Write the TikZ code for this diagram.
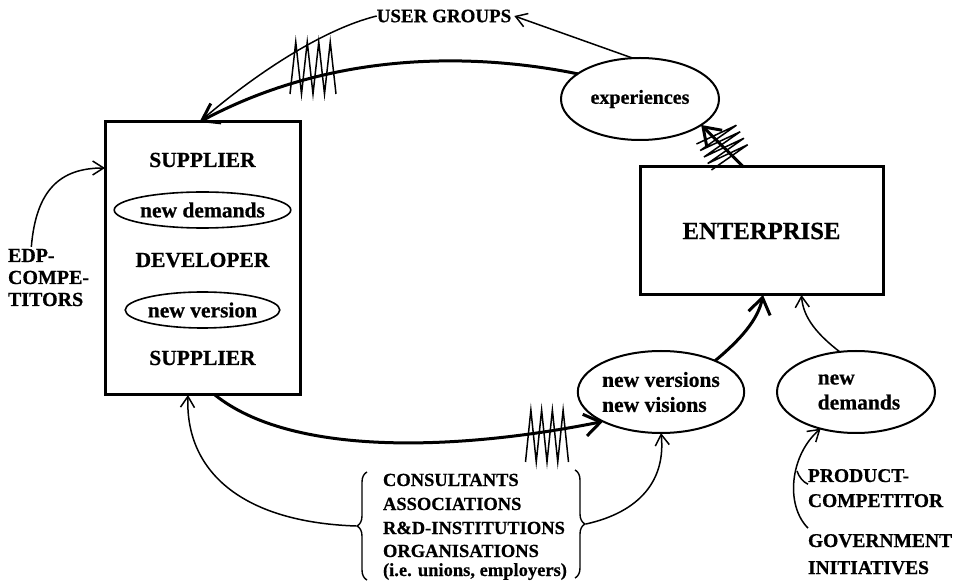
\documentclass[tikz,border=0pt]{standalone}
\usepackage{fontspec}
\setmainfont{Liberation Serif}[BoldFeatures={FakeBold=0.6}]
\usetikzlibrary{arrows.meta,decorations.pathreplacing,shapes.geometric}

% zigzag hatch laid across a flow line: centre, rotation, width, height
\newcommand\hatchmark[4]{%
  \draw[line width=1.5pt, line join=miter, shift={(#1)}, rotate=#2]
    ({-0.5*#3},{0.5*#4}) -- ({-0.375*#3},{-0.5*#4}) -- ({-0.25*#3},{0.5*#4})
    -- ({-0.125*#3},{-0.5*#4}) -- (0,{0.5*#4}) -- ({0.125*#3},{-0.5*#4})
    -- ({0.25*#3},{0.5*#4}) -- ({0.375*#3},{-0.5*#4}) -- ({0.5*#3},{0.5*#4});}

\begin{document}
\begin{tikzpicture}[x=1pt,y=-1pt,
  every node/.style={inner sep=0pt, outer sep=0pt},
  big/.style={font=\bfseries\fontsize{21.5}{25}\selectfont},
  mid/.style={font=\bfseries\fontsize{19.5}{22}\selectfont},
  small/.style={font=\bfseries\fontsize{18.5}{22}\selectfont},
  frame/.style={draw, line width=3pt},
  oval/.style={draw, ellipse, line width=2pt, minimum width=158pt, minimum height=82pt},
  inoval/.style={draw, ellipse, line width=1.6pt, minimum width=151pt, minimum height=36pt},
  heavy/.style={line width=3pt, -{Straight Barb[length=16pt,width=22pt]}},
  light/.style={line width=1.5pt, -{Straight Barb[length=11pt,width=14pt]}},
  plain/.style={line width=1.5pt}
]
\useasboundingbox (0,0) rectangle (962,585);

% main actors
\node[frame, minimum width=195pt, minimum height=273pt] (sup) at (202.5,258.5) {};
\node[frame, minimum width=243pt, minimum height=128pt,
      font=\bfseries\fontsize{24.7}{28}\selectfont] (ent) at (761.5,231) {ENTERPRISE};

% inside the supplier box
\node[big, anchor=base] (s1) at (202.5,167) {SUPPLIER};
\node[inoval, big] (ndin) at (202.5,210) {new demands};
\node[big, anchor=base] (dev) at (202.5,267) {DEVELOPER};
\node[inoval, big] (nvin) at (202.5,310) {new version};
\node[big, anchor=base] (s2) at (202.5,365) {SUPPLIER};

% ellipses
\node[oval, font=\bfseries\fontsize{20}{24}\selectfont] (exp) at (640,99) {experiences};
\node[oval, big, align=left] (nv) at (661,392) {new versions\\new visions};
\node[oval, big, align=left] (nd) at (856,392) {\hspace*{6pt}new\\\hspace*{6pt}demands};

% labels
\node[font=\bfseries\fontsize{19}{22}\selectfont] (ug) at (444,16) {USER GROUPS};
\node[font=\bfseries\fontsize{20}{22}\selectfont, anchor=base west] (edp1) at (8,262) {EDP-};
\node[font=\bfseries\fontsize{20}{22}\selectfont, anchor=base west] (edp2) at (8,284) {COMPE-};
\node[font=\bfseries\fontsize{20}{22}\selectfont, anchor=base west] (edp3) at (8,306) {TITORS};

\node[small, anchor=base west] (o1) at (383,486) {CONSULTANTS};
\node[small, anchor=base west] (o2) at (383,510) {ASSOCIATIONS};
\node[small, anchor=base west] (o3) at (383,534) {R\&D-INSTITUTIONS};
\node[small, anchor=base west] (o4) at (383,557) {ORGANISATIONS};
\node[small, anchor=base west] (o5) at (383,576) {(i.e. unions, employers)};

\node[mid, anchor=base west] (p1) at (808,482) {PRODUCT-};
\node[mid, anchor=base west] (p2) at (808,507) {COMPETITOR};
\node[mid, anchor=base west] (g1) at (808,547) {GOVERNMENT};
\node[mid, anchor=base west] (g2) at (808,574) {INITIATIVES};

% braces around the list of institutions
\draw[line width=1.4pt, decorate, decoration={brace, amplitude=10pt}]
  (367,580) -- (367,472);
\draw[line width=1.4pt, decorate, decoration={brace, amplitude=10pt}]
  (575,470) -- (575,578);
\coordinate (lb) at (356,526);
\coordinate (rb) at (586,524);

% heavy flow cycle
\draw[heavy] (exp.158) .. controls (470,52) and (330,52) .. ([xshift=-3pt]sup.north);
\draw[heavy] ([xshift=12.5pt]sup.south) .. controls (290,455) and (450,452) .. (nv.207);
\draw[heavy] (nv.30) .. controls (740,340) and (758,320) .. ([xshift=1.5pt]ent.south);
\draw[heavy] ([xshift=-18pt]ent.north) -- (exp.-23);

% hatch marks on the heavy flows
\hatchmark{313,68}{0}{46}{52}
\hatchmark{547,436}{0}{43}{52}
\hatchmark{723,146}{-60}{30}{44}

% thin influences
\draw[light] (exp.100) -- ([xshift=3pt]ug.east);
\draw[plain] (ug.west) .. controls (320,30) and (250,78) .. ([xshift=-3pt]sup.north);
\draw[light] (edp1.north) ++(0,-2) .. controls (36,190) and (60,168) .. ([yshift=-46pt]sup.north west);
\draw[light] (lb) .. controls (240,522) and (185,470) .. ([xshift=-14.5pt]sup.south);
\draw[light] (rb) .. controls (640,512) and (666,480) .. (nv.south);
\draw[light] (nd.112) .. controls (818,335) and (803,318) .. ([xshift=40pt]ent.south);
\draw[light] ([yshift=6pt]g1.north west) .. controls (785,505) and (790,455) .. (nd.226);
\draw[plain] ([yshift=-2pt]p1.south west) .. controls (803,482) and (799,477) .. (797,471);

\end{tikzpicture}
\end{document}
